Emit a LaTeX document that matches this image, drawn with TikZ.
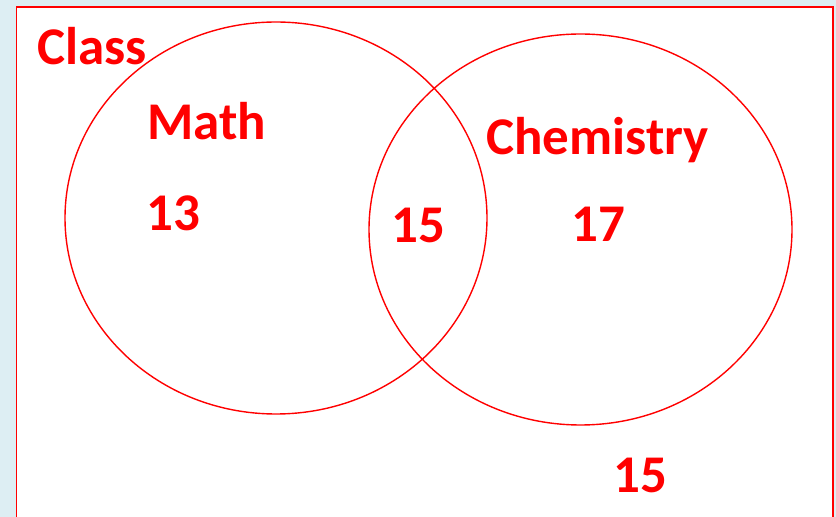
\documentclass[tikz,border=0pt]{standalone}
\usepackage{fontspec}
\setmainfont{Carlito}
\usetikzlibrary{shapes.geometric}
\definecolor{bgblue}{HTML}{DDEEF3}
\definecolor{vred}{HTML}{FF0000}
\begin{document}
\begin{tikzpicture}[x=1pt,y=1pt,
  setring/.style={draw=vred,line width=1.4pt,ellipse,inner sep=0pt},
  lbl/.style={text=vred,font=\fontsize{53}{60}\selectfont\bfseries,inner sep=0pt,anchor=base west}]
\useasboundingbox (0,0) rectangle (836,517);
\fill[bgblue] (0,0) rectangle (836,517);
\draw[vred,fill=white,line width=1.8pt] (16.5,-5) rectangle (833,510);
\node[setring,minimum width=422pt,minimum height=392pt] (math) at (276,299) {};
\node[setring,minimum width=423pt,minimum height=391pt] (chem) at (580.5,287.5) {};
\node[lbl] (class) at (37,452) {Class};
\node[lbl] (mathl) at (147,377) {Math};
\node[lbl] (chemlbl) at (486,362) {Chemistry};
\node[lbl] (n13) at (146,286) {13};
\node[lbl] (n15) at (391,274) {15};
\node[lbl] (n17) at (571,275) {17};
\node[lbl] (nout) at (613,24) {15};
\end{tikzpicture}
\end{document}
